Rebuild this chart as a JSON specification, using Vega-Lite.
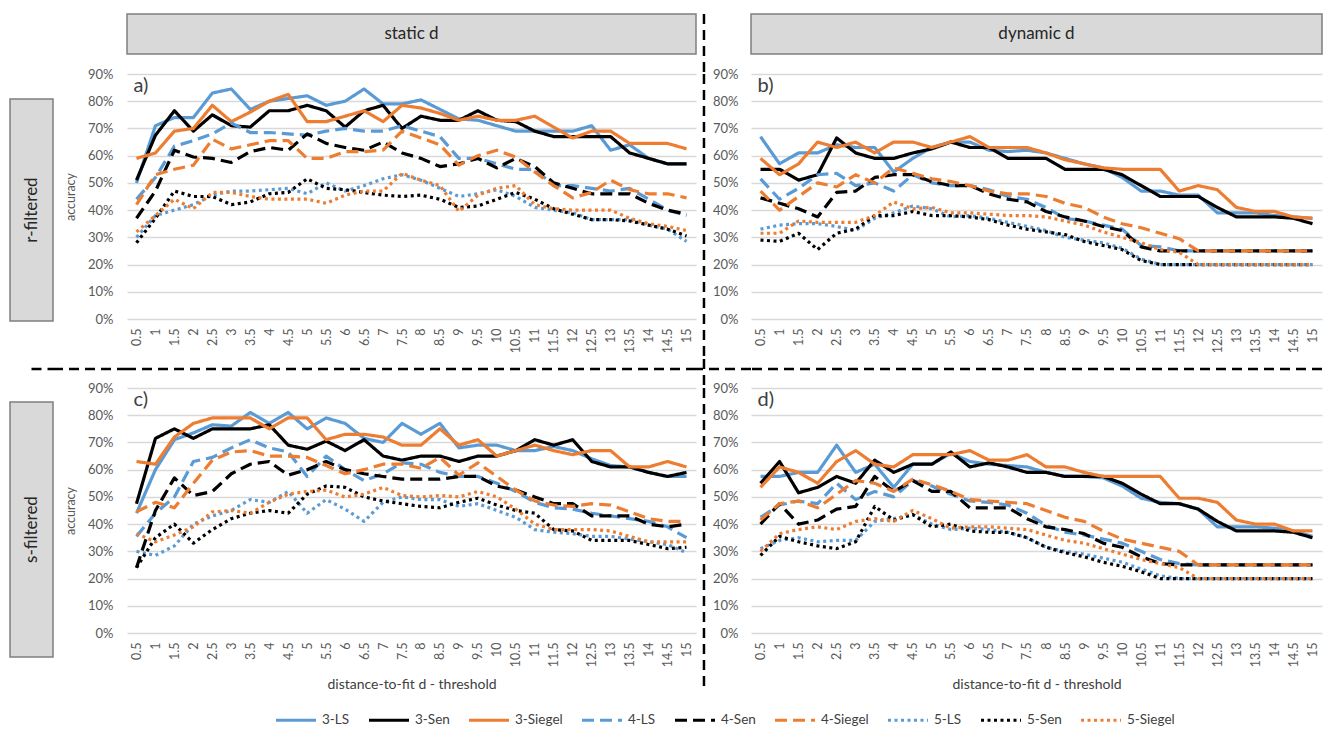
{
"$schema":"https://vega.github.io/schema/vega-lite/v6.json",
"padding":{"left":9,"top":12,"right":0,"bottom":0},
"background":"white",
"config":{"font":"Lato","view":{"stroke":null},"axis":{"labelFont":"Lato","titleFont":"Lato","labelColor":"#595959","titleColor":"#595959","domain":false,"ticks":false,"gridColor":"#d9d9d9","gridWidth":1.3}},
"columns":5,"spacing":0,"bounds":"flush","align":"each",
"datasets":{
"a":[
{"s":"3-LS","d":0.5,"v":0.5},{"s":"3-LS","d":1,"v":0.71},{"s":"3-LS","d":1.5,"v":0.74},{"s":"3-LS","d":2,"v":0.74},{"s":"3-LS","d":2.5,"v":0.83},{"s":"3-LS","d":3,"v":0.845},{"s":"3-LS","d":3.5,"v":0.77},{"s":"3-LS","d":4,"v":0.8},{"s":"3-LS","d":4.5,"v":0.81},{"s":"3-LS","d":5,"v":0.82},{"s":"3-LS","d":5.5,"v":0.785},{"s":"3-LS","d":6,"v":0.8},{"s":"3-LS","d":6.5,"v":0.845},{"s":"3-LS","d":7,"v":0.79},{"s":"3-LS","d":7.5,"v":0.79},{"s":"3-LS","d":8,"v":0.805},{"s":"3-LS","d":8.5,"v":0.77},{"s":"3-LS","d":9,"v":0.735},{"s":"3-LS","d":9.5,"v":0.73},{"s":"3-LS","d":10,"v":0.71},{"s":"3-LS","d":10.5,"v":0.69},{"s":"3-LS","d":11,"v":0.69},{"s":"3-LS","d":11.5,"v":0.69},{"s":"3-LS","d":12,"v":0.69},{"s":"3-LS","d":12.5,"v":0.71},{"s":"3-LS","d":13,"v":0.62},{"s":"3-LS","d":13.5,"v":0.64},{"s":"3-LS","d":14,"v":0.59},{"s":"3-LS","d":14.5,"v":0.57},{"s":"3-LS","d":15,"v":0.57},
{"s":"3-Sen","d":0.5,"v":0.51},{"s":"3-Sen","d":1,"v":0.675},{"s":"3-Sen","d":1.5,"v":0.765},{"s":"3-Sen","d":2,"v":0.69},{"s":"3-Sen","d":2.5,"v":0.75},{"s":"3-Sen","d":3,"v":0.71},{"s":"3-Sen","d":3.5,"v":0.705},{"s":"3-Sen","d":4,"v":0.765},{"s":"3-Sen","d":4.5,"v":0.765},{"s":"3-Sen","d":5,"v":0.785},{"s":"3-Sen","d":5.5,"v":0.765},{"s":"3-Sen","d":6,"v":0.705},{"s":"3-Sen","d":6.5,"v":0.765},{"s":"3-Sen","d":7,"v":0.785},{"s":"3-Sen","d":7.5,"v":0.7},{"s":"3-Sen","d":8,"v":0.745},{"s":"3-Sen","d":8.5,"v":0.73},{"s":"3-Sen","d":9,"v":0.73},{"s":"3-Sen","d":9.5,"v":0.765},{"s":"3-Sen","d":10,"v":0.73},{"s":"3-Sen","d":10.5,"v":0.725},{"s":"3-Sen","d":11,"v":0.69},{"s":"3-Sen","d":11.5,"v":0.67},{"s":"3-Sen","d":12,"v":0.67},{"s":"3-Sen","d":12.5,"v":0.67},{"s":"3-Sen","d":13,"v":0.67},{"s":"3-Sen","d":13.5,"v":0.61},{"s":"3-Sen","d":14,"v":0.59},{"s":"3-Sen","d":14.5,"v":0.57},{"s":"3-Sen","d":15,"v":0.57},
{"s":"3-Siegel","d":0.5,"v":0.59},{"s":"3-Siegel","d":1,"v":0.61},{"s":"3-Siegel","d":1.5,"v":0.69},{"s":"3-Siegel","d":2,"v":0.7},{"s":"3-Siegel","d":2.5,"v":0.785},{"s":"3-Siegel","d":3,"v":0.725},{"s":"3-Siegel","d":3.5,"v":0.76},{"s":"3-Siegel","d":4,"v":0.8},{"s":"3-Siegel","d":4.5,"v":0.825},{"s":"3-Siegel","d":5,"v":0.725},{"s":"3-Siegel","d":5.5,"v":0.725},{"s":"3-Siegel","d":6,"v":0.745},{"s":"3-Siegel","d":6.5,"v":0.765},{"s":"3-Siegel","d":7,"v":0.725},{"s":"3-Siegel","d":7.5,"v":0.785},{"s":"3-Siegel","d":8,"v":0.775},{"s":"3-Siegel","d":8.5,"v":0.755},{"s":"3-Siegel","d":9,"v":0.73},{"s":"3-Siegel","d":9.5,"v":0.745},{"s":"3-Siegel","d":10,"v":0.73},{"s":"3-Siegel","d":10.5,"v":0.73},{"s":"3-Siegel","d":11,"v":0.745},{"s":"3-Siegel","d":11.5,"v":0.705},{"s":"3-Siegel","d":12,"v":0.665},{"s":"3-Siegel","d":12.5,"v":0.69},{"s":"3-Siegel","d":13,"v":0.69},{"s":"3-Siegel","d":13.5,"v":0.645},{"s":"3-Siegel","d":14,"v":0.645},{"s":"3-Siegel","d":14.5,"v":0.645},{"s":"3-Siegel","d":15,"v":0.625},
{"s":"4-LS","d":0.5,"v":0.44},{"s":"4-LS","d":1,"v":0.52},{"s":"4-LS","d":1.5,"v":0.635},{"s":"4-LS","d":2,"v":0.655},{"s":"4-LS","d":2.5,"v":0.68},{"s":"4-LS","d":3,"v":0.72},{"s":"4-LS","d":3.5,"v":0.685},{"s":"4-LS","d":4,"v":0.685},{"s":"4-LS","d":4.5,"v":0.68},{"s":"4-LS","d":5,"v":0.675},{"s":"4-LS","d":5.5,"v":0.69},{"s":"4-LS","d":6,"v":0.7},{"s":"4-LS","d":6.5,"v":0.69},{"s":"4-LS","d":7,"v":0.69},{"s":"4-LS","d":7.5,"v":0.71},{"s":"4-LS","d":8,"v":0.69},{"s":"4-LS","d":8.5,"v":0.67},{"s":"4-LS","d":9,"v":0.59},{"s":"4-LS","d":9.5,"v":0.59},{"s":"4-LS","d":10,"v":0.57},{"s":"4-LS","d":10.5,"v":0.55},{"s":"4-LS","d":11,"v":0.55},{"s":"4-LS","d":11.5,"v":0.49},{"s":"4-LS","d":12,"v":0.49},{"s":"4-LS","d":12.5,"v":0.48},{"s":"4-LS","d":13,"v":0.47},{"s":"4-LS","d":13.5,"v":0.48},{"s":"4-LS","d":14,"v":0.44},{"s":"4-LS","d":14.5,"v":0.4},{"s":"4-LS","d":15,"v":0.38},
{"s":"4-Sen","d":0.5,"v":0.37},{"s":"4-Sen","d":1,"v":0.47},{"s":"4-Sen","d":1.5,"v":0.62},{"s":"4-Sen","d":2,"v":0.595},{"s":"4-Sen","d":2.5,"v":0.59},{"s":"4-Sen","d":3,"v":0.575},{"s":"4-Sen","d":3.5,"v":0.615},{"s":"4-Sen","d":4,"v":0.63},{"s":"4-Sen","d":4.5,"v":0.62},{"s":"4-Sen","d":5,"v":0.68},{"s":"4-Sen","d":5.5,"v":0.645},{"s":"4-Sen","d":6,"v":0.63},{"s":"4-Sen","d":6.5,"v":0.62},{"s":"4-Sen","d":7,"v":0.65},{"s":"4-Sen","d":7.5,"v":0.61},{"s":"4-Sen","d":8,"v":0.59},{"s":"4-Sen","d":8.5,"v":0.56},{"s":"4-Sen","d":9,"v":0.57},{"s":"4-Sen","d":9.5,"v":0.59},{"s":"4-Sen","d":10,"v":0.555},{"s":"4-Sen","d":10.5,"v":0.59},{"s":"4-Sen","d":11,"v":0.56},{"s":"4-Sen","d":11.5,"v":0.5},{"s":"4-Sen","d":12,"v":0.48},{"s":"4-Sen","d":12.5,"v":0.46},{"s":"4-Sen","d":13,"v":0.46},{"s":"4-Sen","d":13.5,"v":0.46},{"s":"4-Sen","d":14,"v":0.425},{"s":"4-Sen","d":14.5,"v":0.4},{"s":"4-Sen","d":15,"v":0.385},
{"s":"4-Siegel","d":0.5,"v":0.42},{"s":"4-Siegel","d":1,"v":0.53},{"s":"4-Siegel","d":1.5,"v":0.55},{"s":"4-Siegel","d":2,"v":0.565},{"s":"4-Siegel","d":2.5,"v":0.66},{"s":"4-Siegel","d":3,"v":0.625},{"s":"4-Siegel","d":3.5,"v":0.64},{"s":"4-Siegel","d":4,"v":0.655},{"s":"4-Siegel","d":4.5,"v":0.655},{"s":"4-Siegel","d":5,"v":0.59},{"s":"4-Siegel","d":5.5,"v":0.59},{"s":"4-Siegel","d":6,"v":0.615},{"s":"4-Siegel","d":6.5,"v":0.615},{"s":"4-Siegel","d":7,"v":0.62},{"s":"4-Siegel","d":7.5,"v":0.69},{"s":"4-Siegel","d":8,"v":0.665},{"s":"4-Siegel","d":8.5,"v":0.64},{"s":"4-Siegel","d":9,"v":0.565},{"s":"4-Siegel","d":9.5,"v":0.6},{"s":"4-Siegel","d":10,"v":0.62},{"s":"4-Siegel","d":10.5,"v":0.595},{"s":"4-Siegel","d":11,"v":0.54},{"s":"4-Siegel","d":11.5,"v":0.49},{"s":"4-Siegel","d":12,"v":0.445},{"s":"4-Siegel","d":12.5,"v":0.465},{"s":"4-Siegel","d":13,"v":0.51},{"s":"4-Siegel","d":13.5,"v":0.475},{"s":"4-Siegel","d":14,"v":0.46},{"s":"4-Siegel","d":14.5,"v":0.46},{"s":"4-Siegel","d":15,"v":0.445},
{"s":"5-LS","d":0.5,"v":0.3},{"s":"5-LS","d":1,"v":0.38},{"s":"5-LS","d":1.5,"v":0.4},{"s":"5-LS","d":2,"v":0.42},{"s":"5-LS","d":2.5,"v":0.455},{"s":"5-LS","d":3,"v":0.47},{"s":"5-LS","d":3.5,"v":0.47},{"s":"5-LS","d":4,"v":0.475},{"s":"5-LS","d":4.5,"v":0.48},{"s":"5-LS","d":5,"v":0.46},{"s":"5-LS","d":5.5,"v":0.5},{"s":"5-LS","d":6,"v":0.47},{"s":"5-LS","d":6.5,"v":0.49},{"s":"5-LS","d":7,"v":0.515},{"s":"5-LS","d":7.5,"v":0.53},{"s":"5-LS","d":8,"v":0.51},{"s":"5-LS","d":8.5,"v":0.48},{"s":"5-LS","d":9,"v":0.45},{"s":"5-LS","d":9.5,"v":0.46},{"s":"5-LS","d":10,"v":0.475},{"s":"5-LS","d":10.5,"v":0.45},{"s":"5-LS","d":11,"v":0.41},{"s":"5-LS","d":11.5,"v":0.4},{"s":"5-LS","d":12,"v":0.39},{"s":"5-LS","d":12.5,"v":0.365},{"s":"5-LS","d":13,"v":0.365},{"s":"5-LS","d":13.5,"v":0.365},{"s":"5-LS","d":14,"v":0.345},{"s":"5-LS","d":14.5,"v":0.33},{"s":"5-LS","d":15,"v":0.285},
{"s":"5-Sen","d":0.5,"v":0.28},{"s":"5-Sen","d":1,"v":0.37},{"s":"5-Sen","d":1.5,"v":0.47},{"s":"5-Sen","d":2,"v":0.45},{"s":"5-Sen","d":2.5,"v":0.45},{"s":"5-Sen","d":3,"v":0.42},{"s":"5-Sen","d":3.5,"v":0.43},{"s":"5-Sen","d":4,"v":0.46},{"s":"5-Sen","d":4.5,"v":0.465},{"s":"5-Sen","d":5,"v":0.515},{"s":"5-Sen","d":5.5,"v":0.48},{"s":"5-Sen","d":6,"v":0.475},{"s":"5-Sen","d":6.5,"v":0.465},{"s":"5-Sen","d":7,"v":0.455},{"s":"5-Sen","d":7.5,"v":0.45},{"s":"5-Sen","d":8,"v":0.455},{"s":"5-Sen","d":8.5,"v":0.44},{"s":"5-Sen","d":9,"v":0.41},{"s":"5-Sen","d":9.5,"v":0.415},{"s":"5-Sen","d":10,"v":0.44},{"s":"5-Sen","d":10.5,"v":0.465},{"s":"5-Sen","d":11,"v":0.44},{"s":"5-Sen","d":11.5,"v":0.405},{"s":"5-Sen","d":12,"v":0.385},{"s":"5-Sen","d":12.5,"v":0.365},{"s":"5-Sen","d":13,"v":0.365},{"s":"5-Sen","d":13.5,"v":0.36},{"s":"5-Sen","d":14,"v":0.345},{"s":"5-Sen","d":14.5,"v":0.33},{"s":"5-Sen","d":15,"v":0.305},
{"s":"5-Siegel","d":0.5,"v":0.32},{"s":"5-Siegel","d":1,"v":0.38},{"s":"5-Siegel","d":1.5,"v":0.44},{"s":"5-Siegel","d":2,"v":0.405},{"s":"5-Siegel","d":2.5,"v":0.465},{"s":"5-Siegel","d":3,"v":0.465},{"s":"5-Siegel","d":3.5,"v":0.45},{"s":"5-Siegel","d":4,"v":0.44},{"s":"5-Siegel","d":4.5,"v":0.44},{"s":"5-Siegel","d":5,"v":0.44},{"s":"5-Siegel","d":5.5,"v":0.425},{"s":"5-Siegel","d":6,"v":0.455},{"s":"5-Siegel","d":6.5,"v":0.47},{"s":"5-Siegel","d":7,"v":0.47},{"s":"5-Siegel","d":7.5,"v":0.535},{"s":"5-Siegel","d":8,"v":0.51},{"s":"5-Siegel","d":8.5,"v":0.49},{"s":"5-Siegel","d":9,"v":0.395},{"s":"5-Siegel","d":9.5,"v":0.455},{"s":"5-Siegel","d":10,"v":0.48},{"s":"5-Siegel","d":10.5,"v":0.49},{"s":"5-Siegel","d":11,"v":0.42},{"s":"5-Siegel","d":11.5,"v":0.405},{"s":"5-Siegel","d":12,"v":0.4},{"s":"5-Siegel","d":12.5,"v":0.4},{"s":"5-Siegel","d":13,"v":0.4},{"s":"5-Siegel","d":13.5,"v":0.37},{"s":"5-Siegel","d":14,"v":0.35},{"s":"5-Siegel","d":14.5,"v":0.34},{"s":"5-Siegel","d":15,"v":0.325}
],
"b":[
{"s":"3-LS","d":0.5,"v":0.67},{"s":"3-LS","d":1,"v":0.57},{"s":"3-LS","d":1.5,"v":0.61},{"s":"3-LS","d":2,"v":0.61},{"s":"3-LS","d":2.5,"v":0.64},{"s":"3-LS","d":3,"v":0.63},{"s":"3-LS","d":3.5,"v":0.63},{"s":"3-LS","d":4,"v":0.54},{"s":"3-LS","d":4.5,"v":0.59},{"s":"3-LS","d":5,"v":0.63},{"s":"3-LS","d":5.5,"v":0.65},{"s":"3-LS","d":6,"v":0.65},{"s":"3-LS","d":6.5,"v":0.62},{"s":"3-LS","d":7,"v":0.615},{"s":"3-LS","d":7.5,"v":0.62},{"s":"3-LS","d":8,"v":0.61},{"s":"3-LS","d":8.5,"v":0.59},{"s":"3-LS","d":9,"v":0.57},{"s":"3-LS","d":9.5,"v":0.555},{"s":"3-LS","d":10,"v":0.52},{"s":"3-LS","d":10.5,"v":0.47},{"s":"3-LS","d":11,"v":0.47},{"s":"3-LS","d":11.5,"v":0.455},{"s":"3-LS","d":12,"v":0.455},{"s":"3-LS","d":12.5,"v":0.39},{"s":"3-LS","d":13,"v":0.39},{"s":"3-LS","d":13.5,"v":0.39},{"s":"3-LS","d":14,"v":0.38},{"s":"3-LS","d":14.5,"v":0.375},{"s":"3-LS","d":15,"v":0.37},
{"s":"3-Sen","d":0.5,"v":0.55},{"s":"3-Sen","d":1,"v":0.55},{"s":"3-Sen","d":1.5,"v":0.51},{"s":"3-Sen","d":2,"v":0.53},{"s":"3-Sen","d":2.5,"v":0.665},{"s":"3-Sen","d":3,"v":0.61},{"s":"3-Sen","d":3.5,"v":0.59},{"s":"3-Sen","d":4,"v":0.59},{"s":"3-Sen","d":4.5,"v":0.61},{"s":"3-Sen","d":5,"v":0.625},{"s":"3-Sen","d":5.5,"v":0.65},{"s":"3-Sen","d":6,"v":0.63},{"s":"3-Sen","d":6.5,"v":0.63},{"s":"3-Sen","d":7,"v":0.59},{"s":"3-Sen","d":7.5,"v":0.59},{"s":"3-Sen","d":8,"v":0.59},{"s":"3-Sen","d":8.5,"v":0.55},{"s":"3-Sen","d":9,"v":0.55},{"s":"3-Sen","d":9.5,"v":0.55},{"s":"3-Sen","d":10,"v":0.53},{"s":"3-Sen","d":10.5,"v":0.49},{"s":"3-Sen","d":11,"v":0.45},{"s":"3-Sen","d":11.5,"v":0.45},{"s":"3-Sen","d":12,"v":0.45},{"s":"3-Sen","d":12.5,"v":0.41},{"s":"3-Sen","d":13,"v":0.375},{"s":"3-Sen","d":13.5,"v":0.375},{"s":"3-Sen","d":14,"v":0.375},{"s":"3-Sen","d":14.5,"v":0.37},{"s":"3-Sen","d":15,"v":0.35},
{"s":"3-Siegel","d":0.5,"v":0.59},{"s":"3-Siegel","d":1,"v":0.53},{"s":"3-Siegel","d":1.5,"v":0.57},{"s":"3-Siegel","d":2,"v":0.65},{"s":"3-Siegel","d":2.5,"v":0.63},{"s":"3-Siegel","d":3,"v":0.65},{"s":"3-Siegel","d":3.5,"v":0.61},{"s":"3-Siegel","d":4,"v":0.65},{"s":"3-Siegel","d":4.5,"v":0.65},{"s":"3-Siegel","d":5,"v":0.63},{"s":"3-Siegel","d":5.5,"v":0.65},{"s":"3-Siegel","d":6,"v":0.67},{"s":"3-Siegel","d":6.5,"v":0.63},{"s":"3-Siegel","d":7,"v":0.63},{"s":"3-Siegel","d":7.5,"v":0.63},{"s":"3-Siegel","d":8,"v":0.61},{"s":"3-Siegel","d":8.5,"v":0.585},{"s":"3-Siegel","d":9,"v":0.57},{"s":"3-Siegel","d":9.5,"v":0.555},{"s":"3-Siegel","d":10,"v":0.55},{"s":"3-Siegel","d":10.5,"v":0.55},{"s":"3-Siegel","d":11,"v":0.55},{"s":"3-Siegel","d":11.5,"v":0.47},{"s":"3-Siegel","d":12,"v":0.49},{"s":"3-Siegel","d":12.5,"v":0.475},{"s":"3-Siegel","d":13,"v":0.41},{"s":"3-Siegel","d":13.5,"v":0.395},{"s":"3-Siegel","d":14,"v":0.395},{"s":"3-Siegel","d":14.5,"v":0.375},{"s":"3-Siegel","d":15,"v":0.37},
{"s":"4-LS","d":0.5,"v":0.515},{"s":"4-LS","d":1,"v":0.44},{"s":"4-LS","d":1.5,"v":0.48},{"s":"4-LS","d":2,"v":0.53},{"s":"4-LS","d":2.5,"v":0.535},{"s":"4-LS","d":3,"v":0.49},{"s":"4-LS","d":3.5,"v":0.5},{"s":"4-LS","d":4,"v":0.47},{"s":"4-LS","d":4.5,"v":0.53},{"s":"4-LS","d":5,"v":0.5},{"s":"4-LS","d":5.5,"v":0.49},{"s":"4-LS","d":6,"v":0.49},{"s":"4-LS","d":6.5,"v":0.475},{"s":"4-LS","d":7,"v":0.45},{"s":"4-LS","d":7.5,"v":0.44},{"s":"4-LS","d":8,"v":0.41},{"s":"4-LS","d":8.5,"v":0.37},{"s":"4-LS","d":9,"v":0.36},{"s":"4-LS","d":9.5,"v":0.345},{"s":"4-LS","d":10,"v":0.33},{"s":"4-LS","d":10.5,"v":0.27},{"s":"4-LS","d":11,"v":0.265},{"s":"4-LS","d":11.5,"v":0.25},{"s":"4-LS","d":12,"v":0.25},{"s":"4-LS","d":12.5,"v":0.25},{"s":"4-LS","d":13,"v":0.25},{"s":"4-LS","d":13.5,"v":0.25},{"s":"4-LS","d":14,"v":0.25},{"s":"4-LS","d":14.5,"v":0.25},{"s":"4-LS","d":15,"v":0.25},
{"s":"4-Sen","d":0.5,"v":0.445},{"s":"4-Sen","d":1,"v":0.425},{"s":"4-Sen","d":1.5,"v":0.405},{"s":"4-Sen","d":2,"v":0.375},{"s":"4-Sen","d":2.5,"v":0.465},{"s":"4-Sen","d":3,"v":0.47},{"s":"4-Sen","d":3.5,"v":0.52},{"s":"4-Sen","d":4,"v":0.53},{"s":"4-Sen","d":4.5,"v":0.53},{"s":"4-Sen","d":5,"v":0.505},{"s":"4-Sen","d":5.5,"v":0.49},{"s":"4-Sen","d":6,"v":0.49},{"s":"4-Sen","d":6.5,"v":0.46},{"s":"4-Sen","d":7,"v":0.44},{"s":"4-Sen","d":7.5,"v":0.43},{"s":"4-Sen","d":8,"v":0.395},{"s":"4-Sen","d":8.5,"v":0.375},{"s":"4-Sen","d":9,"v":0.36},{"s":"4-Sen","d":9.5,"v":0.34},{"s":"4-Sen","d":10,"v":0.325},{"s":"4-Sen","d":10.5,"v":0.265},{"s":"4-Sen","d":11,"v":0.25},{"s":"4-Sen","d":11.5,"v":0.25},{"s":"4-Sen","d":12,"v":0.25},{"s":"4-Sen","d":12.5,"v":0.25},{"s":"4-Sen","d":13,"v":0.25},{"s":"4-Sen","d":13.5,"v":0.25},{"s":"4-Sen","d":14,"v":0.25},{"s":"4-Sen","d":14.5,"v":0.25},{"s":"4-Sen","d":15,"v":0.25},
{"s":"4-Siegel","d":0.5,"v":0.47},{"s":"4-Siegel","d":1,"v":0.4},{"s":"4-Siegel","d":1.5,"v":0.45},{"s":"4-Siegel","d":2,"v":0.5},{"s":"4-Siegel","d":2.5,"v":0.485},{"s":"4-Siegel","d":3,"v":0.53},{"s":"4-Siegel","d":3.5,"v":0.5},{"s":"4-Siegel","d":4,"v":0.555},{"s":"4-Siegel","d":4.5,"v":0.535},{"s":"4-Siegel","d":5,"v":0.515},{"s":"4-Siegel","d":5.5,"v":0.505},{"s":"4-Siegel","d":6,"v":0.49},{"s":"4-Siegel","d":6.5,"v":0.47},{"s":"4-Siegel","d":7,"v":0.46},{"s":"4-Siegel","d":7.5,"v":0.46},{"s":"4-Siegel","d":8,"v":0.45},{"s":"4-Siegel","d":8.5,"v":0.425},{"s":"4-Siegel","d":9,"v":0.41},{"s":"4-Siegel","d":9.5,"v":0.375},{"s":"4-Siegel","d":10,"v":0.35},{"s":"4-Siegel","d":10.5,"v":0.335},{"s":"4-Siegel","d":11,"v":0.315},{"s":"4-Siegel","d":11.5,"v":0.295},{"s":"4-Siegel","d":12,"v":0.25},{"s":"4-Siegel","d":12.5,"v":0.25},{"s":"4-Siegel","d":13,"v":0.25},{"s":"4-Siegel","d":13.5,"v":0.25},{"s":"4-Siegel","d":14,"v":0.25},{"s":"4-Siegel","d":14.5,"v":0.25},{"s":"4-Siegel","d":15,"v":0.25},
{"s":"5-LS","d":0.5,"v":0.33},{"s":"5-LS","d":1,"v":0.345},{"s":"5-LS","d":1.5,"v":0.35},{"s":"5-LS","d":2,"v":0.35},{"s":"5-LS","d":2.5,"v":0.34},{"s":"5-LS","d":3,"v":0.325},{"s":"5-LS","d":3.5,"v":0.37},{"s":"5-LS","d":4,"v":0.39},{"s":"5-LS","d":4.5,"v":0.415},{"s":"5-LS","d":5,"v":0.405},{"s":"5-LS","d":5.5,"v":0.375},{"s":"5-LS","d":6,"v":0.38},{"s":"5-LS","d":6.5,"v":0.37},{"s":"5-LS","d":7,"v":0.355},{"s":"5-LS","d":7.5,"v":0.34},{"s":"5-LS","d":8,"v":0.325},{"s":"5-LS","d":8.5,"v":0.3},{"s":"5-LS","d":9,"v":0.29},{"s":"5-LS","d":9.5,"v":0.28},{"s":"5-LS","d":10,"v":0.26},{"s":"5-LS","d":10.5,"v":0.22},{"s":"5-LS","d":11,"v":0.2},{"s":"5-LS","d":11.5,"v":0.2},{"s":"5-LS","d":12,"v":0.2},{"s":"5-LS","d":12.5,"v":0.2},{"s":"5-LS","d":13,"v":0.2},{"s":"5-LS","d":13.5,"v":0.2},{"s":"5-LS","d":14,"v":0.2},{"s":"5-LS","d":14.5,"v":0.2},{"s":"5-LS","d":15,"v":0.2},
{"s":"5-Sen","d":0.5,"v":0.29},{"s":"5-Sen","d":1,"v":0.285},{"s":"5-Sen","d":1.5,"v":0.315},{"s":"5-Sen","d":2,"v":0.255},{"s":"5-Sen","d":2.5,"v":0.315},{"s":"5-Sen","d":3,"v":0.33},{"s":"5-Sen","d":3.5,"v":0.38},{"s":"5-Sen","d":4,"v":0.38},{"s":"5-Sen","d":4.5,"v":0.395},{"s":"5-Sen","d":5,"v":0.38},{"s":"5-Sen","d":5.5,"v":0.38},{"s":"5-Sen","d":6,"v":0.375},{"s":"5-Sen","d":6.5,"v":0.365},{"s":"5-Sen","d":7,"v":0.345},{"s":"5-Sen","d":7.5,"v":0.33},{"s":"5-Sen","d":8,"v":0.32},{"s":"5-Sen","d":8.5,"v":0.31},{"s":"5-Sen","d":9,"v":0.285},{"s":"5-Sen","d":9.5,"v":0.27},{"s":"5-Sen","d":10,"v":0.255},{"s":"5-Sen","d":10.5,"v":0.215},{"s":"5-Sen","d":11,"v":0.2},{"s":"5-Sen","d":11.5,"v":0.2},{"s":"5-Sen","d":12,"v":0.2},{"s":"5-Sen","d":12.5,"v":0.2},{"s":"5-Sen","d":13,"v":0.2},{"s":"5-Sen","d":13.5,"v":0.2},{"s":"5-Sen","d":14,"v":0.2},{"s":"5-Sen","d":14.5,"v":0.2},{"s":"5-Sen","d":15,"v":0.2},
{"s":"5-Siegel","d":0.5,"v":0.315},{"s":"5-Siegel","d":1,"v":0.315},{"s":"5-Siegel","d":1.5,"v":0.36},{"s":"5-Siegel","d":2,"v":0.355},{"s":"5-Siegel","d":2.5,"v":0.355},{"s":"5-Siegel","d":3,"v":0.355},{"s":"5-Siegel","d":3.5,"v":0.38},{"s":"5-Siegel","d":4,"v":0.43},{"s":"5-Siegel","d":4.5,"v":0.405},{"s":"5-Siegel","d":5,"v":0.41},{"s":"5-Siegel","d":5.5,"v":0.39},{"s":"5-Siegel","d":6,"v":0.39},{"s":"5-Siegel","d":6.5,"v":0.385},{"s":"5-Siegel","d":7,"v":0.38},{"s":"5-Siegel","d":7.5,"v":0.38},{"s":"5-Siegel","d":8,"v":0.375},{"s":"5-Siegel","d":8.5,"v":0.36},{"s":"5-Siegel","d":9,"v":0.345},{"s":"5-Siegel","d":9.5,"v":0.32},{"s":"5-Siegel","d":10,"v":0.3},{"s":"5-Siegel","d":10.5,"v":0.28},{"s":"5-Siegel","d":11,"v":0.255},{"s":"5-Siegel","d":11.5,"v":0.245},{"s":"5-Siegel","d":12,"v":0.2},{"s":"5-Siegel","d":12.5,"v":0.2},{"s":"5-Siegel","d":13,"v":0.2},{"s":"5-Siegel","d":13.5,"v":0.2},{"s":"5-Siegel","d":14,"v":0.2},{"s":"5-Siegel","d":14.5,"v":0.2},{"s":"5-Siegel","d":15,"v":0.2}
],
"c":[
{"s":"3-LS","d":0.5,"v":0.44},{"s":"3-LS","d":1,"v":0.6},{"s":"3-LS","d":1.5,"v":0.71},{"s":"3-LS","d":2,"v":0.735},{"s":"3-LS","d":2.5,"v":0.765},{"s":"3-LS","d":3,"v":0.76},{"s":"3-LS","d":3.5,"v":0.81},{"s":"3-LS","d":4,"v":0.77},{"s":"3-LS","d":4.5,"v":0.81},{"s":"3-LS","d":5,"v":0.75},{"s":"3-LS","d":5.5,"v":0.79},{"s":"3-LS","d":6,"v":0.77},{"s":"3-LS","d":6.5,"v":0.715},{"s":"3-LS","d":7,"v":0.7},{"s":"3-LS","d":7.5,"v":0.77},{"s":"3-LS","d":8,"v":0.73},{"s":"3-LS","d":8.5,"v":0.77},{"s":"3-LS","d":9,"v":0.68},{"s":"3-LS","d":9.5,"v":0.69},{"s":"3-LS","d":10,"v":0.69},{"s":"3-LS","d":10.5,"v":0.67},{"s":"3-LS","d":11,"v":0.67},{"s":"3-LS","d":11.5,"v":0.685},{"s":"3-LS","d":12,"v":0.67},{"s":"3-LS","d":12.5,"v":0.64},{"s":"3-LS","d":13,"v":0.615},{"s":"3-LS","d":13.5,"v":0.61},{"s":"3-LS","d":14,"v":0.59},{"s":"3-LS","d":14.5,"v":0.575},{"s":"3-LS","d":15,"v":0.575},
{"s":"3-Sen","d":0.5,"v":0.475},{"s":"3-Sen","d":1,"v":0.715},{"s":"3-Sen","d":1.5,"v":0.75},{"s":"3-Sen","d":2,"v":0.715},{"s":"3-Sen","d":2.5,"v":0.75},{"s":"3-Sen","d":3,"v":0.75},{"s":"3-Sen","d":3.5,"v":0.75},{"s":"3-Sen","d":4,"v":0.765},{"s":"3-Sen","d":4.5,"v":0.69},{"s":"3-Sen","d":5,"v":0.675},{"s":"3-Sen","d":5.5,"v":0.705},{"s":"3-Sen","d":6,"v":0.67},{"s":"3-Sen","d":6.5,"v":0.71},{"s":"3-Sen","d":7,"v":0.65},{"s":"3-Sen","d":7.5,"v":0.635},{"s":"3-Sen","d":8,"v":0.65},{"s":"3-Sen","d":8.5,"v":0.65},{"s":"3-Sen","d":9,"v":0.63},{"s":"3-Sen","d":9.5,"v":0.65},{"s":"3-Sen","d":10,"v":0.65},{"s":"3-Sen","d":10.5,"v":0.67},{"s":"3-Sen","d":11,"v":0.71},{"s":"3-Sen","d":11.5,"v":0.69},{"s":"3-Sen","d":12,"v":0.71},{"s":"3-Sen","d":12.5,"v":0.63},{"s":"3-Sen","d":13,"v":0.61},{"s":"3-Sen","d":13.5,"v":0.61},{"s":"3-Sen","d":14,"v":0.59},{"s":"3-Sen","d":14.5,"v":0.575},{"s":"3-Sen","d":15,"v":0.59},
{"s":"3-Siegel","d":0.5,"v":0.63},{"s":"3-Siegel","d":1,"v":0.62},{"s":"3-Siegel","d":1.5,"v":0.72},{"s":"3-Siegel","d":2,"v":0.77},{"s":"3-Siegel","d":2.5,"v":0.79},{"s":"3-Siegel","d":3,"v":0.79},{"s":"3-Siegel","d":3.5,"v":0.79},{"s":"3-Siegel","d":4,"v":0.75},{"s":"3-Siegel","d":4.5,"v":0.79},{"s":"3-Siegel","d":5,"v":0.79},{"s":"3-Siegel","d":5.5,"v":0.71},{"s":"3-Siegel","d":6,"v":0.73},{"s":"3-Siegel","d":6.5,"v":0.73},{"s":"3-Siegel","d":7,"v":0.72},{"s":"3-Siegel","d":7.5,"v":0.69},{"s":"3-Siegel","d":8,"v":0.69},{"s":"3-Siegel","d":8.5,"v":0.75},{"s":"3-Siegel","d":9,"v":0.69},{"s":"3-Siegel","d":9.5,"v":0.71},{"s":"3-Siegel","d":10,"v":0.65},{"s":"3-Siegel","d":10.5,"v":0.67},{"s":"3-Siegel","d":11,"v":0.69},{"s":"3-Siegel","d":11.5,"v":0.67},{"s":"3-Siegel","d":12,"v":0.655},{"s":"3-Siegel","d":12.5,"v":0.67},{"s":"3-Siegel","d":13,"v":0.67},{"s":"3-Siegel","d":13.5,"v":0.61},{"s":"3-Siegel","d":14,"v":0.61},{"s":"3-Siegel","d":14.5,"v":0.63},{"s":"3-Siegel","d":15,"v":0.61},
{"s":"4-LS","d":0.5,"v":0.355},{"s":"4-LS","d":1,"v":0.44},{"s":"4-LS","d":1.5,"v":0.5},{"s":"4-LS","d":2,"v":0.63},{"s":"4-LS","d":2.5,"v":0.645},{"s":"4-LS","d":3,"v":0.68},{"s":"4-LS","d":3.5,"v":0.71},{"s":"4-LS","d":4,"v":0.68},{"s":"4-LS","d":4.5,"v":0.665},{"s":"4-LS","d":5,"v":0.575},{"s":"4-LS","d":5.5,"v":0.65},{"s":"4-LS","d":6,"v":0.6},{"s":"4-LS","d":6.5,"v":0.56},{"s":"4-LS","d":7,"v":0.585},{"s":"4-LS","d":7.5,"v":0.625},{"s":"4-LS","d":8,"v":0.62},{"s":"4-LS","d":8.5,"v":0.59},{"s":"4-LS","d":9,"v":0.575},{"s":"4-LS","d":9.5,"v":0.575},{"s":"4-LS","d":10,"v":0.55},{"s":"4-LS","d":10.5,"v":0.52},{"s":"4-LS","d":11,"v":0.48},{"s":"4-LS","d":11.5,"v":0.46},{"s":"4-LS","d":12,"v":0.455},{"s":"4-LS","d":12.5,"v":0.44},{"s":"4-LS","d":13,"v":0.43},{"s":"4-LS","d":13.5,"v":0.42},{"s":"4-LS","d":14,"v":0.41},{"s":"4-LS","d":14.5,"v":0.39},{"s":"4-LS","d":15,"v":0.35},
{"s":"4-Sen","d":0.5,"v":0.24},{"s":"4-Sen","d":1,"v":0.45},{"s":"4-Sen","d":1.5,"v":0.57},{"s":"4-Sen","d":2,"v":0.505},{"s":"4-Sen","d":2.5,"v":0.52},{"s":"4-Sen","d":3,"v":0.585},{"s":"4-Sen","d":3.5,"v":0.62},{"s":"4-Sen","d":4,"v":0.63},{"s":"4-Sen","d":4.5,"v":0.58},{"s":"4-Sen","d":5,"v":0.6},{"s":"4-Sen","d":5.5,"v":0.63},{"s":"4-Sen","d":6,"v":0.6},{"s":"4-Sen","d":6.5,"v":0.585},{"s":"4-Sen","d":7,"v":0.575},{"s":"4-Sen","d":7.5,"v":0.565},{"s":"4-Sen","d":8,"v":0.565},{"s":"4-Sen","d":8.5,"v":0.565},{"s":"4-Sen","d":9,"v":0.575},{"s":"4-Sen","d":9.5,"v":0.575},{"s":"4-Sen","d":10,"v":0.54},{"s":"4-Sen","d":10.5,"v":0.525},{"s":"4-Sen","d":11,"v":0.5},{"s":"4-Sen","d":11.5,"v":0.475},{"s":"4-Sen","d":12,"v":0.475},{"s":"4-Sen","d":12.5,"v":0.43},{"s":"4-Sen","d":13,"v":0.43},{"s":"4-Sen","d":13.5,"v":0.43},{"s":"4-Sen","d":14,"v":0.4},{"s":"4-Sen","d":14.5,"v":0.39},{"s":"4-Sen","d":15,"v":0.4},
{"s":"4-Siegel","d":0.5,"v":0.445},{"s":"4-Siegel","d":1,"v":0.48},{"s":"4-Siegel","d":1.5,"v":0.46},{"s":"4-Siegel","d":2,"v":0.55},{"s":"4-Siegel","d":2.5,"v":0.635},{"s":"4-Siegel","d":3,"v":0.665},{"s":"4-Siegel","d":3.5,"v":0.67},{"s":"4-Siegel","d":4,"v":0.65},{"s":"4-Siegel","d":4.5,"v":0.65},{"s":"4-Siegel","d":5,"v":0.645},{"s":"4-Siegel","d":5.5,"v":0.615},{"s":"4-Siegel","d":6,"v":0.585},{"s":"4-Siegel","d":6.5,"v":0.6},{"s":"4-Siegel","d":7,"v":0.62},{"s":"4-Siegel","d":7.5,"v":0.62},{"s":"4-Siegel","d":8,"v":0.605},{"s":"4-Siegel","d":8.5,"v":0.645},{"s":"4-Siegel","d":9,"v":0.58},{"s":"4-Siegel","d":9.5,"v":0.625},{"s":"4-Siegel","d":10,"v":0.575},{"s":"4-Siegel","d":10.5,"v":0.525},{"s":"4-Siegel","d":11,"v":0.485},{"s":"4-Siegel","d":11.5,"v":0.47},{"s":"4-Siegel","d":12,"v":0.465},{"s":"4-Siegel","d":12.5,"v":0.475},{"s":"4-Siegel","d":13,"v":0.47},{"s":"4-Siegel","d":13.5,"v":0.445},{"s":"4-Siegel","d":14,"v":0.42},{"s":"4-Siegel","d":14.5,"v":0.41},{"s":"4-Siegel","d":15,"v":0.41},
{"s":"5-LS","d":0.5,"v":0.3},{"s":"5-LS","d":1,"v":0.285},{"s":"5-LS","d":1.5,"v":0.32},{"s":"5-LS","d":2,"v":0.4},{"s":"5-LS","d":2.5,"v":0.43},{"s":"5-LS","d":3,"v":0.45},{"s":"5-LS","d":3.5,"v":0.49},{"s":"5-LS","d":4,"v":0.48},{"s":"5-LS","d":4.5,"v":0.52},{"s":"5-LS","d":5,"v":0.44},{"s":"5-LS","d":5.5,"v":0.49},{"s":"5-LS","d":6,"v":0.455},{"s":"5-LS","d":6.5,"v":0.41},{"s":"5-LS","d":7,"v":0.48},{"s":"5-LS","d":7.5,"v":0.5},{"s":"5-LS","d":8,"v":0.49},{"s":"5-LS","d":8.5,"v":0.49},{"s":"5-LS","d":9,"v":0.465},{"s":"5-LS","d":9.5,"v":0.475},{"s":"5-LS","d":10,"v":0.45},{"s":"5-LS","d":10.5,"v":0.425},{"s":"5-LS","d":11,"v":0.38},{"s":"5-LS","d":11.5,"v":0.37},{"s":"5-LS","d":12,"v":0.365},{"s":"5-LS","d":12.5,"v":0.355},{"s":"5-LS","d":13,"v":0.355},{"s":"5-LS","d":13.5,"v":0.345},{"s":"5-LS","d":14,"v":0.335},{"s":"5-LS","d":14.5,"v":0.325},{"s":"5-LS","d":15,"v":0.295},
{"s":"5-Sen","d":0.5,"v":0.24},{"s":"5-Sen","d":1,"v":0.35},{"s":"5-Sen","d":1.5,"v":0.4},{"s":"5-Sen","d":2,"v":0.33},{"s":"5-Sen","d":2.5,"v":0.38},{"s":"5-Sen","d":3,"v":0.42},{"s":"5-Sen","d":3.5,"v":0.44},{"s":"5-Sen","d":4,"v":0.45},{"s":"5-Sen","d":4.5,"v":0.44},{"s":"5-Sen","d":5,"v":0.51},{"s":"5-Sen","d":5.5,"v":0.54},{"s":"5-Sen","d":6,"v":0.535},{"s":"5-Sen","d":6.5,"v":0.5},{"s":"5-Sen","d":7,"v":0.485},{"s":"5-Sen","d":7.5,"v":0.475},{"s":"5-Sen","d":8,"v":0.465},{"s":"5-Sen","d":8.5,"v":0.46},{"s":"5-Sen","d":9,"v":0.48},{"s":"5-Sen","d":9.5,"v":0.495},{"s":"5-Sen","d":10,"v":0.47},{"s":"5-Sen","d":10.5,"v":0.45},{"s":"5-Sen","d":11,"v":0.44},{"s":"5-Sen","d":11.5,"v":0.38},{"s":"5-Sen","d":12,"v":0.375},{"s":"5-Sen","d":12.5,"v":0.34},{"s":"5-Sen","d":13,"v":0.34},{"s":"5-Sen","d":13.5,"v":0.34},{"s":"5-Sen","d":14,"v":0.325},{"s":"5-Sen","d":14.5,"v":0.31},{"s":"5-Sen","d":15,"v":0.315},
{"s":"5-Siegel","d":0.5,"v":0.365},{"s":"5-Siegel","d":1,"v":0.335},{"s":"5-Siegel","d":1.5,"v":0.36},{"s":"5-Siegel","d":2,"v":0.39},{"s":"5-Siegel","d":2.5,"v":0.445},{"s":"5-Siegel","d":3,"v":0.45},{"s":"5-Siegel","d":3.5,"v":0.44},{"s":"5-Siegel","d":4,"v":0.48},{"s":"5-Siegel","d":4.5,"v":0.51},{"s":"5-Siegel","d":5,"v":0.52},{"s":"5-Siegel","d":5.5,"v":0.525},{"s":"5-Siegel","d":6,"v":0.5},{"s":"5-Siegel","d":6.5,"v":0.51},{"s":"5-Siegel","d":7,"v":0.535},{"s":"5-Siegel","d":7.5,"v":0.505},{"s":"5-Siegel","d":8,"v":0.5},{"s":"5-Siegel","d":8.5,"v":0.505},{"s":"5-Siegel","d":9,"v":0.5},{"s":"5-Siegel","d":9.5,"v":0.52},{"s":"5-Siegel","d":10,"v":0.5},{"s":"5-Siegel","d":10.5,"v":0.455},{"s":"5-Siegel","d":11,"v":0.4},{"s":"5-Siegel","d":11.5,"v":0.38},{"s":"5-Siegel","d":12,"v":0.38},{"s":"5-Siegel","d":12.5,"v":0.38},{"s":"5-Siegel","d":13,"v":0.375},{"s":"5-Siegel","d":13.5,"v":0.355},{"s":"5-Siegel","d":14,"v":0.335},{"s":"5-Siegel","d":14.5,"v":0.335},{"s":"5-Siegel","d":15,"v":0.335}
],
"d":[
{"s":"3-LS","d":0.5,"v":0.575},{"s":"3-LS","d":1,"v":0.575},{"s":"3-LS","d":1.5,"v":0.59},{"s":"3-LS","d":2,"v":0.59},{"s":"3-LS","d":2.5,"v":0.69},{"s":"3-LS","d":3,"v":0.59},{"s":"3-LS","d":3.5,"v":0.62},{"s":"3-LS","d":4,"v":0.535},{"s":"3-LS","d":4.5,"v":0.62},{"s":"3-LS","d":5,"v":0.62},{"s":"3-LS","d":5.5,"v":0.66},{"s":"3-LS","d":6,"v":0.63},{"s":"3-LS","d":6.5,"v":0.62},{"s":"3-LS","d":7,"v":0.615},{"s":"3-LS","d":7.5,"v":0.61},{"s":"3-LS","d":8,"v":0.59},{"s":"3-LS","d":8.5,"v":0.575},{"s":"3-LS","d":9,"v":0.575},{"s":"3-LS","d":9.5,"v":0.57},{"s":"3-LS","d":10,"v":0.54},{"s":"3-LS","d":10.5,"v":0.495},{"s":"3-LS","d":11,"v":0.48},{"s":"3-LS","d":11.5,"v":0.475},{"s":"3-LS","d":12,"v":0.455},{"s":"3-LS","d":12.5,"v":0.39},{"s":"3-LS","d":13,"v":0.39},{"s":"3-LS","d":13.5,"v":0.39},{"s":"3-LS","d":14,"v":0.385},{"s":"3-LS","d":14.5,"v":0.375},{"s":"3-LS","d":15,"v":0.355},
{"s":"3-Sen","d":0.5,"v":0.55},{"s":"3-Sen","d":1,"v":0.63},{"s":"3-Sen","d":1.5,"v":0.515},{"s":"3-Sen","d":2,"v":0.535},{"s":"3-Sen","d":2.5,"v":0.575},{"s":"3-Sen","d":3,"v":0.55},{"s":"3-Sen","d":3.5,"v":0.635},{"s":"3-Sen","d":4,"v":0.59},{"s":"3-Sen","d":4.5,"v":0.62},{"s":"3-Sen","d":5,"v":0.62},{"s":"3-Sen","d":5.5,"v":0.665},{"s":"3-Sen","d":6,"v":0.61},{"s":"3-Sen","d":6.5,"v":0.625},{"s":"3-Sen","d":7,"v":0.61},{"s":"3-Sen","d":7.5,"v":0.59},{"s":"3-Sen","d":8,"v":0.59},{"s":"3-Sen","d":8.5,"v":0.575},{"s":"3-Sen","d":9,"v":0.575},{"s":"3-Sen","d":9.5,"v":0.575},{"s":"3-Sen","d":10,"v":0.55},{"s":"3-Sen","d":10.5,"v":0.51},{"s":"3-Sen","d":11,"v":0.475},{"s":"3-Sen","d":11.5,"v":0.475},{"s":"3-Sen","d":12,"v":0.455},{"s":"3-Sen","d":12.5,"v":0.41},{"s":"3-Sen","d":13,"v":0.375},{"s":"3-Sen","d":13.5,"v":0.375},{"s":"3-Sen","d":14,"v":0.375},{"s":"3-Sen","d":14.5,"v":0.37},{"s":"3-Sen","d":15,"v":0.35},
{"s":"3-Siegel","d":0.5,"v":0.535},{"s":"3-Siegel","d":1,"v":0.61},{"s":"3-Siegel","d":1.5,"v":0.59},{"s":"3-Siegel","d":2,"v":0.55},{"s":"3-Siegel","d":2.5,"v":0.63},{"s":"3-Siegel","d":3,"v":0.67},{"s":"3-Siegel","d":3.5,"v":0.62},{"s":"3-Siegel","d":4,"v":0.61},{"s":"3-Siegel","d":4.5,"v":0.655},{"s":"3-Siegel","d":5,"v":0.655},{"s":"3-Siegel","d":5.5,"v":0.655},{"s":"3-Siegel","d":6,"v":0.67},{"s":"3-Siegel","d":6.5,"v":0.635},{"s":"3-Siegel","d":7,"v":0.635},{"s":"3-Siegel","d":7.5,"v":0.655},{"s":"3-Siegel","d":8,"v":0.61},{"s":"3-Siegel","d":8.5,"v":0.61},{"s":"3-Siegel","d":9,"v":0.59},{"s":"3-Siegel","d":9.5,"v":0.575},{"s":"3-Siegel","d":10,"v":0.575},{"s":"3-Siegel","d":10.5,"v":0.575},{"s":"3-Siegel","d":11,"v":0.575},{"s":"3-Siegel","d":11.5,"v":0.495},{"s":"3-Siegel","d":12,"v":0.495},{"s":"3-Siegel","d":12.5,"v":0.48},{"s":"3-Siegel","d":13,"v":0.415},{"s":"3-Siegel","d":13.5,"v":0.4},{"s":"3-Siegel","d":14,"v":0.4},{"s":"3-Siegel","d":14.5,"v":0.375},{"s":"3-Siegel","d":15,"v":0.375},
{"s":"4-LS","d":0.5,"v":0.425},{"s":"4-LS","d":1,"v":0.47},{"s":"4-LS","d":1.5,"v":0.485},{"s":"4-LS","d":2,"v":0.475},{"s":"4-LS","d":2.5,"v":0.55},{"s":"4-LS","d":3,"v":0.49},{"s":"4-LS","d":3.5,"v":0.52},{"s":"4-LS","d":4,"v":0.5},{"s":"4-LS","d":4.5,"v":0.56},{"s":"4-LS","d":5,"v":0.54},{"s":"4-LS","d":5.5,"v":0.51},{"s":"4-LS","d":6,"v":0.485},{"s":"4-LS","d":6.5,"v":0.48},{"s":"4-LS","d":7,"v":0.47},{"s":"4-LS","d":7.5,"v":0.44},{"s":"4-LS","d":8,"v":0.395},{"s":"4-LS","d":8.5,"v":0.37},{"s":"4-LS","d":9,"v":0.36},{"s":"4-LS","d":9.5,"v":0.345},{"s":"4-LS","d":10,"v":0.33},{"s":"4-LS","d":10.5,"v":0.3},{"s":"4-LS","d":11,"v":0.27},{"s":"4-LS","d":11.5,"v":0.255},{"s":"4-LS","d":12,"v":0.25},{"s":"4-LS","d":12.5,"v":0.25},{"s":"4-LS","d":13,"v":0.25},{"s":"4-LS","d":13.5,"v":0.25},{"s":"4-LS","d":14,"v":0.25},{"s":"4-LS","d":14.5,"v":0.25},{"s":"4-LS","d":15,"v":0.25},
{"s":"4-Sen","d":0.5,"v":0.4},{"s":"4-Sen","d":1,"v":0.475},{"s":"4-Sen","d":1.5,"v":0.4},{"s":"4-Sen","d":2,"v":0.415},{"s":"4-Sen","d":2.5,"v":0.455},{"s":"4-Sen","d":3,"v":0.465},{"s":"4-Sen","d":3.5,"v":0.575},{"s":"4-Sen","d":4,"v":0.52},{"s":"4-Sen","d":4.5,"v":0.56},{"s":"4-Sen","d":5,"v":0.52},{"s":"4-Sen","d":5.5,"v":0.52},{"s":"4-Sen","d":6,"v":0.46},{"s":"4-Sen","d":6.5,"v":0.46},{"s":"4-Sen","d":7,"v":0.46},{"s":"4-Sen","d":7.5,"v":0.42},{"s":"4-Sen","d":8,"v":0.39},{"s":"4-Sen","d":8.5,"v":0.38},{"s":"4-Sen","d":9,"v":0.365},{"s":"4-Sen","d":9.5,"v":0.33},{"s":"4-Sen","d":10,"v":0.315},{"s":"4-Sen","d":10.5,"v":0.28},{"s":"4-Sen","d":11,"v":0.255},{"s":"4-Sen","d":11.5,"v":0.25},{"s":"4-Sen","d":12,"v":0.25},{"s":"4-Sen","d":12.5,"v":0.25},{"s":"4-Sen","d":13,"v":0.25},{"s":"4-Sen","d":13.5,"v":0.25},{"s":"4-Sen","d":14,"v":0.25},{"s":"4-Sen","d":14.5,"v":0.25},{"s":"4-Sen","d":15,"v":0.25},
{"s":"4-Siegel","d":0.5,"v":0.415},{"s":"4-Siegel","d":1,"v":0.475},{"s":"4-Siegel","d":1.5,"v":0.485},{"s":"4-Siegel","d":2,"v":0.46},{"s":"4-Siegel","d":2.5,"v":0.51},{"s":"4-Siegel","d":3,"v":0.56},{"s":"4-Siegel","d":3.5,"v":0.55},{"s":"4-Siegel","d":4,"v":0.52},{"s":"4-Siegel","d":4.5,"v":0.565},{"s":"4-Siegel","d":5,"v":0.545},{"s":"4-Siegel","d":5.5,"v":0.52},{"s":"4-Siegel","d":6,"v":0.49},{"s":"4-Siegel","d":6.5,"v":0.485},{"s":"4-Siegel","d":7,"v":0.48},{"s":"4-Siegel","d":7.5,"v":0.475},{"s":"4-Siegel","d":8,"v":0.45},{"s":"4-Siegel","d":8.5,"v":0.425},{"s":"4-Siegel","d":9,"v":0.41},{"s":"4-Siegel","d":9.5,"v":0.375},{"s":"4-Siegel","d":10,"v":0.345},{"s":"4-Siegel","d":10.5,"v":0.33},{"s":"4-Siegel","d":11,"v":0.315},{"s":"4-Siegel","d":11.5,"v":0.3},{"s":"4-Siegel","d":12,"v":0.25},{"s":"4-Siegel","d":12.5,"v":0.25},{"s":"4-Siegel","d":13,"v":0.25},{"s":"4-Siegel","d":13.5,"v":0.25},{"s":"4-Siegel","d":14,"v":0.25},{"s":"4-Siegel","d":14.5,"v":0.25},{"s":"4-Siegel","d":15,"v":0.25},
{"s":"5-LS","d":0.5,"v":0.31},{"s":"5-LS","d":1,"v":0.34},{"s":"5-LS","d":1.5,"v":0.35},{"s":"5-LS","d":2,"v":0.335},{"s":"5-LS","d":2.5,"v":0.34},{"s":"5-LS","d":3,"v":0.34},{"s":"5-LS","d":3.5,"v":0.41},{"s":"5-LS","d":4,"v":0.42},{"s":"5-LS","d":4.5,"v":0.435},{"s":"5-LS","d":5,"v":0.4},{"s":"5-LS","d":5.5,"v":0.38},{"s":"5-LS","d":6,"v":0.385},{"s":"5-LS","d":6.5,"v":0.38},{"s":"5-LS","d":7,"v":0.37},{"s":"5-LS","d":7.5,"v":0.35},{"s":"5-LS","d":8,"v":0.315},{"s":"5-LS","d":8.5,"v":0.3},{"s":"5-LS","d":9,"v":0.29},{"s":"5-LS","d":9.5,"v":0.275},{"s":"5-LS","d":10,"v":0.26},{"s":"5-LS","d":10.5,"v":0.235},{"s":"5-LS","d":11,"v":0.21},{"s":"5-LS","d":11.5,"v":0.2},{"s":"5-LS","d":12,"v":0.2},{"s":"5-LS","d":12.5,"v":0.2},{"s":"5-LS","d":13,"v":0.2},{"s":"5-LS","d":13.5,"v":0.2},{"s":"5-LS","d":14,"v":0.2},{"s":"5-LS","d":14.5,"v":0.2},{"s":"5-LS","d":15,"v":0.2},
{"s":"5-Sen","d":0.5,"v":0.285},{"s":"5-Sen","d":1,"v":0.355},{"s":"5-Sen","d":1.5,"v":0.335},{"s":"5-Sen","d":2,"v":0.32},{"s":"5-Sen","d":2.5,"v":0.31},{"s":"5-Sen","d":3,"v":0.335},{"s":"5-Sen","d":3.5,"v":0.465},{"s":"5-Sen","d":4,"v":0.415},{"s":"5-Sen","d":4.5,"v":0.435},{"s":"5-Sen","d":5,"v":0.39},{"s":"5-Sen","d":5.5,"v":0.4},{"s":"5-Sen","d":6,"v":0.375},{"s":"5-Sen","d":6.5,"v":0.37},{"s":"5-Sen","d":7,"v":0.37},{"s":"5-Sen","d":7.5,"v":0.35},{"s":"5-Sen","d":8,"v":0.315},{"s":"5-Sen","d":8.5,"v":0.295},{"s":"5-Sen","d":9,"v":0.28},{"s":"5-Sen","d":9.5,"v":0.26},{"s":"5-Sen","d":10,"v":0.245},{"s":"5-Sen","d":10.5,"v":0.225},{"s":"5-Sen","d":11,"v":0.2},{"s":"5-Sen","d":11.5,"v":0.2},{"s":"5-Sen","d":12,"v":0.2},{"s":"5-Sen","d":12.5,"v":0.2},{"s":"5-Sen","d":13,"v":0.2},{"s":"5-Sen","d":13.5,"v":0.2},{"s":"5-Sen","d":14,"v":0.2},{"s":"5-Sen","d":14.5,"v":0.2},{"s":"5-Sen","d":15,"v":0.2},
{"s":"5-Siegel","d":0.5,"v":0.3},{"s":"5-Siegel","d":1,"v":0.365},{"s":"5-Siegel","d":1.5,"v":0.38},{"s":"5-Siegel","d":2,"v":0.39},{"s":"5-Siegel","d":2.5,"v":0.38},{"s":"5-Siegel","d":3,"v":0.41},{"s":"5-Siegel","d":3.5,"v":0.42},{"s":"5-Siegel","d":4,"v":0.41},{"s":"5-Siegel","d":4.5,"v":0.45},{"s":"5-Siegel","d":5,"v":0.42},{"s":"5-Siegel","d":5.5,"v":0.385},{"s":"5-Siegel","d":6,"v":0.39},{"s":"5-Siegel","d":6.5,"v":0.39},{"s":"5-Siegel","d":7,"v":0.385},{"s":"5-Siegel","d":7.5,"v":0.38},{"s":"5-Siegel","d":8,"v":0.36},{"s":"5-Siegel","d":8.5,"v":0.34},{"s":"5-Siegel","d":9,"v":0.33},{"s":"5-Siegel","d":9.5,"v":0.31},{"s":"5-Siegel","d":10,"v":0.29},{"s":"5-Siegel","d":10.5,"v":0.27},{"s":"5-Siegel","d":11,"v":0.255},{"s":"5-Siegel","d":11.5,"v":0.24},{"s":"5-Siegel","d":12,"v":0.2},{"s":"5-Siegel","d":12.5,"v":0.2},{"s":"5-Siegel","d":13,"v":0.2},{"s":"5-Siegel","d":13.5,"v":0.2},{"s":"5-Siegel","d":14,"v":0.2},{"s":"5-Siegel","d":14.5,"v":0.2},{"s":"5-Siegel","d":15,"v":0.2}
]
},
"concat":[
{"width":43,"height":1,"data":{"values":[]},"mark":"point"},
{"width":74,"height":1,"data":{"values":[]},"mark":"point"},
{"width":569,"height":40,"view":{"fill":"#d9d9d9","stroke":"#7f7f7f","strokeWidth":1.5},"data":{"values":[{"label":"static d"}]},"mark":{"type":"text","fontSize":17,"color":"#262626"},"encoding":{"text":{"field":"label"}}},
{"width":55,"height":60,"data":{"values":[{}]},"mark":{"type":"rule","color":"black","strokeWidth":2.5,"strokeDash":[10,6]},"encoding":{"x":{"datum":0.145,"type":"quantitative","scale":{"domain":[0,1],"nice":false},"axis":null}}},
{"width":571,"height":40,"view":{"fill":"#d9d9d9","stroke":"#7f7f7f","strokeWidth":1.5},"data":{"values":[{"label":"dynamic d"}]},"mark":{"type":"text","fontSize":17,"color":"#262626"},"encoding":{"text":{"field":"label"}}},

{"width":43,"height":285,"data":{"values":[{"label":"r-filtered"}]},"layer":[
 {"mark":{"type":"rect","fill":"#d9d9d9","stroke":"#7f7f7f","strokeWidth":1.5},"encoding":{"y":{"datum":0.9123,"type":"quantitative","scale":{"domain":[0,1],"nice":false},"axis":null},"y2":{"datum":0.1333}}},
 {"mark":{"type":"text","angle":270,"fontSize":17,"color":"#262626"},"encoding":{"y":{"datum":0.5228,"type":"quantitative","axis":null},"text":{"field":"label"}}}]},
{"width":74,"height":1,"data":{"values":[]},"mark":"point"},
{"width":569,"height":245,"data":{"name":"a"},"layer":[
 {"mark":{"type":"line","strokeWidth":3.2,"strokeJoin":"round"},"encoding":{
  "x":{"field":"d","type":"ordinal","scale":{"type":"point","padding":0.5},"axis":{"title":null,"labelAngle":-90,"labelFontSize":12.5,"labelPadding":9}},
  "y":{"field":"v","type":"quantitative","scale":{"domain":[0,0.9],"nice":false},"axis":{"values":[0,0.1,0.2,0.3,0.4,0.5,0.6,0.7,0.8,0.9],"tickCount":10,"labelOverlap":false,"format":".0%","labelFontSize":13,"labelPadding":14,"title":"accuracy","titleFontSize":12.5,"titleFontWeight":"normal","titlePadding":10}},
  "color":{"field":"s","type":"nominal","scale":{"domain":["3-LS","3-Sen","3-Siegel","4-LS","4-Sen","4-Siegel","5-LS","5-Sen","5-Siegel"],"range":["#5B9BD5","#000000","#ED7D31","#5B9BD5","#000000","#ED7D31","#5B9BD5","#000000","#ED7D31"]},"legend":{"orient":"none","legendX":264,"legendY":684,"direction":"horizontal","title":null,"symbolType":"stroke","symbolSize":1600,"symbolStrokeWidth":3.2,"labelFontSize":13.5,"labelColor":"#404040","labelOffset":4,"columnPadding":12}},
  "strokeDash":{"field":"s","type":"nominal","scale":{"domain":["3-LS","3-Sen","3-Siegel","4-LS","4-Sen","4-Siegel","5-LS","5-Sen","5-Siegel"],"range":[[1,0],[1,0],[1,0],[12,6],[12,6],[12,6],[3,3.5],[3,3.5],[3,3.5]]},"legend":{"orient":"none","legendX":264,"legendY":684,"direction":"horizontal","title":null}}}},
 {"data":{"values":[{"label":"a)"}]},"mark":{"type":"text","align":"left","baseline":"middle","fontSize":20,"color":"#404040","dx":-3},"encoding":{"x":{"datum":0.5,"type":"ordinal","axis":{"title":null,"labelAngle":-90,"labelFontSize":12.5,"labelPadding":9}},"y":{"datum":0.855,"type":"quantitative","axis":{"values":[0,0.1,0.2,0.3,0.4,0.5,0.6,0.7,0.8,0.9],"tickCount":10,"labelOverlap":false,"format":".0%","labelFontSize":13,"labelPadding":14,"title":"accuracy","titleFontSize":12.5,"titleFontWeight":"normal","titlePadding":10}},"text":{"field":"label"}}}]},
{"width":55,"height":285,"data":{"values":[{}]},"mark":{"type":"rule","color":"black","strokeWidth":2.5,"strokeDash":[10,6]},"encoding":{"x":{"datum":0.145,"type":"quantitative","scale":{"domain":[0,1],"nice":false},"axis":null}}},
{"width":571,"height":245,"data":{"name":"b"},"layer":[
 {"mark":{"type":"line","strokeWidth":3.2,"strokeJoin":"round"},"encoding":{
  "x":{"field":"d","type":"ordinal","scale":{"type":"point","padding":0.5},"axis":{"title":null,"labelAngle":-90,"labelFontSize":12.5,"labelPadding":9}},
  "y":{"field":"v","type":"quantitative","scale":{"domain":[0,0.9],"nice":false},"axis":{"values":[0,0.1,0.2,0.3,0.4,0.5,0.6,0.7,0.8,0.9],"tickCount":10,"labelOverlap":false,"format":".0%","labelFontSize":13,"labelPadding":13,"title":null}},
  "color":{"field":"s","type":"nominal","scale":{"domain":["3-LS","3-Sen","3-Siegel","4-LS","4-Sen","4-Siegel","5-LS","5-Sen","5-Siegel"],"range":["#5B9BD5","#000000","#ED7D31","#5B9BD5","#000000","#ED7D31","#5B9BD5","#000000","#ED7D31"]},"legend":{"orient":"none","legendX":264,"legendY":684,"direction":"horizontal","title":null}},
  "strokeDash":{"field":"s","type":"nominal","scale":{"domain":["3-LS","3-Sen","3-Siegel","4-LS","4-Sen","4-Siegel","5-LS","5-Sen","5-Siegel"],"range":[[1,0],[1,0],[1,0],[12,6],[12,6],[12,6],[3,3.5],[3,3.5],[3,3.5]]},"legend":{"orient":"none","legendX":264,"legendY":684,"direction":"horizontal","title":null}}}},
 {"data":{"values":[{"label":"b)"}]},"mark":{"type":"text","align":"left","baseline":"middle","fontSize":20,"color":"#404040","dx":-3},"encoding":{"x":{"datum":0.5,"type":"ordinal","axis":{"title":null,"labelAngle":-90,"labelFontSize":12.5,"labelPadding":9}},"y":{"datum":0.855,"type":"quantitative","axis":{"values":[0,0.1,0.2,0.3,0.4,0.5,0.6,0.7,0.8,0.9],"tickCount":10,"labelOverlap":false,"format":".0%","labelFontSize":13,"labelPadding":13,"title":null}},"text":{"field":"label"}}}]},

{"width":43,"height":29,"data":{"values":[{}]},"mark":{"type":"rule","color":"black","strokeWidth":2.5,"strokeDash":[10,6]},"encoding":{"y":{"datum":0.655,"type":"quantitative","scale":{"domain":[0,1],"nice":false},"axis":null},"x":{"datum":0.5,"type":"quantitative","scale":{"domain":[0,1],"nice":false},"axis":null},"x2":{"datum":1}}},
{"width":74,"height":29,"data":{"values":[{}]},"mark":{"type":"rule","color":"black","strokeWidth":2.5,"strokeDash":[10,6]},"encoding":{"y":{"datum":0.655,"type":"quantitative","scale":{"domain":[0,1],"nice":false},"axis":null}}},
{"width":569,"height":29,"data":{"values":[{}]},"mark":{"type":"rule","color":"black","strokeWidth":2.5,"strokeDash":[10,6]},"encoding":{"y":{"datum":0.655,"type":"quantitative","scale":{"domain":[0,1],"nice":false},"axis":null}}},
{"width":55,"height":29,"data":{"values":[{}]},"layer":[
 {"mark":{"type":"rule","color":"black","strokeWidth":2.5,"strokeDash":[10,6]},"encoding":{"y":{"datum":0.655,"type":"quantitative","scale":{"domain":[0,1],"nice":false},"axis":null}}},
 {"mark":{"type":"rule","color":"black","strokeWidth":2.5,"strokeDash":[10,6]},"encoding":{"x":{"datum":0.145,"type":"quantitative","scale":{"domain":[0,1],"nice":false},"axis":null}}}]},
{"width":571,"height":29,"data":{"values":[{}]},"mark":{"type":"rule","color":"black","strokeWidth":2.5,"strokeDash":[10,6]},"encoding":{"y":{"datum":0.655,"type":"quantitative","scale":{"domain":[0,1],"nice":false},"axis":null}}},

{"width":43,"height":304,"data":{"values":[{"label":"s-filtered"}]},"layer":[
 {"mark":{"type":"rect","fill":"#d9d9d9","stroke":"#7f7f7f","strokeWidth":1.5},"encoding":{"y":{"datum":0.9539,"type":"quantitative","scale":{"domain":[0,1],"nice":false},"axis":null},"y2":{"datum":0.1151}}},
 {"mark":{"type":"text","angle":270,"fontSize":17,"color":"#262626"},"encoding":{"y":{"datum":0.5345,"type":"quantitative","axis":null},"text":{"field":"label"}}}]},
{"width":74,"height":1,"data":{"values":[]},"mark":"point"},
{"width":569,"height":245,"data":{"name":"c"},"layer":[
 {"mark":{"type":"line","strokeWidth":3.2,"strokeJoin":"round"},"encoding":{
  "x":{"field":"d","type":"ordinal","scale":{"type":"point","padding":0.5},"axis":{"title":"distance-to-fit d - threshold","titleFontSize":14,"titleFontWeight":"normal","titleColor":"#404040","titlePadding":11,"labelAngle":-90,"labelFontSize":12.5,"labelPadding":9}},
  "y":{"field":"v","type":"quantitative","scale":{"domain":[0,0.9],"nice":false},"axis":{"values":[0,0.1,0.2,0.3,0.4,0.5,0.6,0.7,0.8,0.9],"tickCount":10,"labelOverlap":false,"format":".0%","labelFontSize":13,"labelPadding":14,"title":"accuracy","titleFontSize":12.5,"titleFontWeight":"normal","titlePadding":10}},
  "color":{"field":"s","type":"nominal","scale":{"domain":["3-LS","3-Sen","3-Siegel","4-LS","4-Sen","4-Siegel","5-LS","5-Sen","5-Siegel"],"range":["#5B9BD5","#000000","#ED7D31","#5B9BD5","#000000","#ED7D31","#5B9BD5","#000000","#ED7D31"]},"legend":{"orient":"none","legendX":264,"legendY":684,"direction":"horizontal","title":null}},
  "strokeDash":{"field":"s","type":"nominal","scale":{"domain":["3-LS","3-Sen","3-Siegel","4-LS","4-Sen","4-Siegel","5-LS","5-Sen","5-Siegel"],"range":[[1,0],[1,0],[1,0],[12,6],[12,6],[12,6],[3,3.5],[3,3.5],[3,3.5]]},"legend":{"orient":"none","legendX":264,"legendY":684,"direction":"horizontal","title":null}}}},
 {"data":{"values":[{"label":"c)"}]},"mark":{"type":"text","align":"left","baseline":"middle","fontSize":20,"color":"#404040","dx":-3},"encoding":{"x":{"datum":0.5,"type":"ordinal","axis":{"title":"distance-to-fit d - threshold","titleFontSize":14,"titleFontWeight":"normal","titleColor":"#404040","titlePadding":11,"labelAngle":-90,"labelFontSize":12.5,"labelPadding":9}},"y":{"datum":0.855,"type":"quantitative","axis":{"values":[0,0.1,0.2,0.3,0.4,0.5,0.6,0.7,0.8,0.9],"tickCount":10,"labelOverlap":false,"format":".0%","labelFontSize":13,"labelPadding":14,"title":"accuracy","titleFontSize":12.5,"titleFontWeight":"normal","titlePadding":10}},"text":{"field":"label"}}}]},
{"width":55,"height":304,"data":{"values":[{}]},"mark":{"type":"rule","color":"black","strokeWidth":2.5,"strokeDash":[10,6]},"encoding":{"x":{"datum":0.145,"type":"quantitative","scale":{"domain":[0,1],"nice":false},"axis":null}}},
{"width":571,"height":245,"data":{"name":"d"},"layer":[
 {"mark":{"type":"line","strokeWidth":3.2,"strokeJoin":"round"},"encoding":{
  "x":{"field":"d","type":"ordinal","scale":{"type":"point","padding":0.5},"axis":{"title":"distance-to-fit d - threshold","titleFontSize":14,"titleFontWeight":"normal","titleColor":"#404040","titlePadding":11,"labelAngle":-90,"labelFontSize":12.5,"labelPadding":9}},
  "y":{"field":"v","type":"quantitative","scale":{"domain":[0,0.9],"nice":false},"axis":{"values":[0,0.1,0.2,0.3,0.4,0.5,0.6,0.7,0.8,0.9],"tickCount":10,"labelOverlap":false,"format":".0%","labelFontSize":13,"labelPadding":13,"title":null}},
  "color":{"field":"s","type":"nominal","scale":{"domain":["3-LS","3-Sen","3-Siegel","4-LS","4-Sen","4-Siegel","5-LS","5-Sen","5-Siegel"],"range":["#5B9BD5","#000000","#ED7D31","#5B9BD5","#000000","#ED7D31","#5B9BD5","#000000","#ED7D31"]},"legend":{"orient":"none","legendX":264,"legendY":684,"direction":"horizontal","title":null}},
  "strokeDash":{"field":"s","type":"nominal","scale":{"domain":["3-LS","3-Sen","3-Siegel","4-LS","4-Sen","4-Siegel","5-LS","5-Sen","5-Siegel"],"range":[[1,0],[1,0],[1,0],[12,6],[12,6],[12,6],[3,3.5],[3,3.5],[3,3.5]]},"legend":{"orient":"none","legendX":264,"legendY":684,"direction":"horizontal","title":null}}}},
 {"data":{"values":[{"label":"d)"}]},"mark":{"type":"text","align":"left","baseline":"middle","fontSize":20,"color":"#404040","dx":-3},"encoding":{"x":{"datum":0.5,"type":"ordinal","axis":{"title":"distance-to-fit d - threshold","titleFontSize":14,"titleFontWeight":"normal","titleColor":"#404040","titlePadding":11,"labelAngle":-90,"labelFontSize":12.5,"labelPadding":9}},"y":{"datum":0.855,"type":"quantitative","axis":{"values":[0,0.1,0.2,0.3,0.4,0.5,0.6,0.7,0.8,0.9],"tickCount":10,"labelOverlap":false,"format":".0%","labelFontSize":13,"labelPadding":13,"title":null}},"text":{"field":"label"}}}]}
]
}
